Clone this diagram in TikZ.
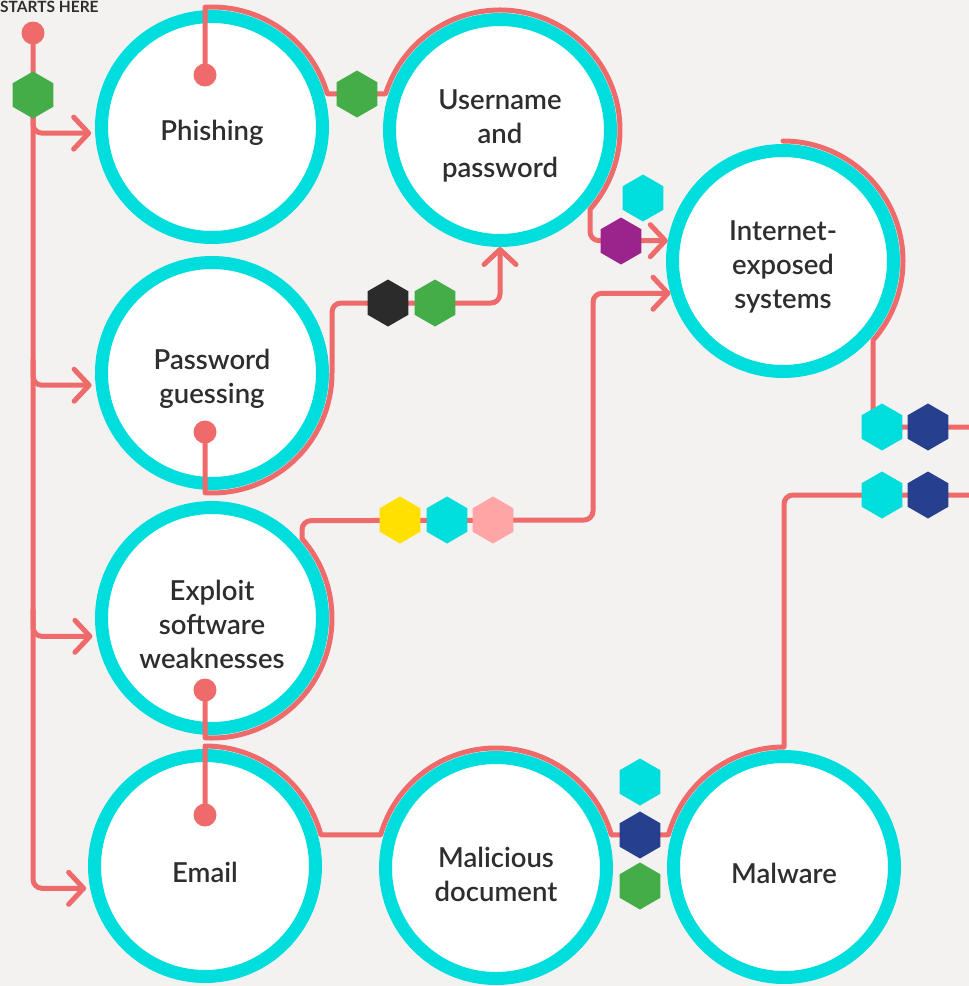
\documentclass[tikz,border=0pt]{standalone}
\usepackage{fontspec}
\setmainfont{Lato}
\newfontfamily\stagefont{Lato Semibold}
\usetikzlibrary{shapes.geometric,arrows.meta,calc}

\definecolor{bg}{HTML}{F4F2F1}
\definecolor{ringcyan}{HTML}{00DDDD}
\definecolor{flowred}{HTML}{EF6A6A}
\definecolor{ink}{HTML}{2E2E2E}
\definecolor{hgreen}{HTML}{45AD48}
\definecolor{hnavy}{HTML}{26408F}
\definecolor{hpurple}{HTML}{9B248C}
\definecolor{hblack}{HTML}{2B2B2B}
\definecolor{hyellow}{HTML}{FFE000}
\definecolor{hpink}{HTML}{FFA5A5}

\begin{document}
\begin{tikzpicture}[x=1pt,y=1pt,
  >={Straight Barb[length=15pt,width=32pt,round]},
  stage/.style={circle, draw=ringcyan, line width=13pt, fill=white,
    minimum size=221pt, inner sep=0pt,
    label={[yshift=-6pt, align=center, text=ink,
      font=\stagefont\fontsize{27.5}{34}\selectfont]center:#1}},
  flow/.style={draw=flowred, line width=5pt, line cap=round, line join=round},
  hexa/.style={regular polygon, regular polygon sides=6, shape border rotate=30,
    minimum size=47pt, inner sep=0pt, draw=none, fill=#1},
  dot/.style={circle, fill=flowred, minimum size=23pt, inner sep=0pt}]

\useasboundingbox (0,0) rectangle (969,-986);
\clip (0,0) rectangle (969,-986);
\fill[bg] (0,0) rectangle (969,-986);

% stages
\node[stage={Phishing}]                       (phish)   at (212,-127) {};
\node[stage={Username\\and\\password}]        (user)    at (500,-130) {};
\node[stage={Internet-\\exposed\\systems}]    (inet)    at (783,-261) {};
\node[stage={Password\\guessing}]             (guess)   at (212,-373) {};
\node[stage={Exploit\\software\\weaknesses}]  (exploit) at (212,-618) {};
\node[stage={Email}]                          (email)   at (205,-866) {};
\node[stage={Malicious\\document}]            (maldoc)  at (496,-868) {};
\node[stage={Malware}]                        (malware) at (784,-867) {};

% start label
\node[anchor=north west, inner sep=0pt, text=ink,
  font=\bfseries\fontsize{15.5}{15.5}\selectfont]
  (startlabel) at (0,-1) {STARTS HERE};

% path origins
\coordinate (startdot)   at (33,-33);
\coordinate (phishdot)   at ($(phish.center)+(-7,52)$);
\coordinate (guessdot)   at ($(guess.center)+(-7,-59)$);
\coordinate (exploitdot) at ($(exploit.center)+(-7,-72)$);
\coordinate (emaildot)   at ($(email.center)+(0,51)$);
\coordinate (rightA) at (980,-427);
\coordinate (rightB) at (980,-495);

% trunk and branches
\draw[flow,->,shorten >=4pt,rounded corners=9] (startdot) |- (email.191);
\draw[flow,->,shorten >=4pt,rounded corners=9] (33,-110) |- (phish.183);
\draw[flow,->,shorten >=4pt,rounded corners=9] (33,-360) |- (guess.186);
\draw[flow,->,shorten >=4pt,rounded corners=9] (33,-610) |- (exploit.189);

% phishing -> username and password -> internet-exposed systems
\draw[flow,->] (phishdot) -- ($(phish.center)+(93.3:120)$)
  arc[start angle=93.3, end angle=16, radius=120]
  -- ($(user.center)+(162.5:120)$)
  arc[start angle=162.5, end angle=-41.4, radius=120]
  [rounded corners=9] |- (inet.170);

% password guessing -> username and password
\draw[flow,->] (guessdot) -- ($(guess.center)+(-93.3:120)$)
  arc[start angle=-93.3, end angle=0, radius=120]
  [rounded corners=9] -- ++(0,70) -| (user.south);

% exploit software weaknesses -> internet-exposed systems
\draw[flow,->] (exploitdot) -- ($(exploit.center)+(-93.3:120)$)
  arc[start angle=-93.3, end angle=41.4, radius=120]
  [rounded corners=9] -- ++(0,18) -- (593,-520) |- (inet.196);

% email -> malicious document -> malware -> onward
\draw[flow] (emaildot) -- ($(email.center)+(90:120)$)
  arc[start angle=90, end angle=15, radius=120]
  -- ($(maldoc.center)+(164:120)$)
  arc[start angle=164, end angle=16, radius=120]
  -- ($(malware.center)+(164.5:120)$)
  arc[start angle=164.5, end angle=90, radius=120]
  [rounded corners=9] -- (784,-495) -- (rightB);

% internet-exposed systems -> onward
\draw[flow] ($(inet.center)+(90:120)$)
  arc[start angle=90, end angle=-41.4, radius=120]
  [rounded corners=9] -- (873,-427) -- (rightA);

% dots
\node[dot] (d0) at (startdot) {};
\node[dot] (d1) at (phishdot) {};
\node[dot] (d2) at (guessdot) {};
\node[dot] (d3) at (exploitdot) {};
\node[dot] (d4) at (emaildot) {};

% markers
\node[hexa=hgreen]   (m1)  at (33,-95) {};
\node[hexa=hgreen]   (m2)  at (357,-94) {};
\node[hexa=ringcyan] (m3)  at (643,-198) {};
\node[hexa=hpurple]  (m4)  at (621,-241) {};
\node[hexa=hblack]   (m5)  at (388,-303) {};
\node[hexa=hgreen]   (m6)  at (435,-303) {};
\node[hexa=hyellow]  (m7)  at (400,-520) {};
\node[hexa=ringcyan] (m8)  at (447,-520) {};
\node[hexa=hpink]    (m9)  at (493,-520) {};
\node[hexa=ringcyan] (m10) at (882,-427) {};
\node[hexa=hnavy]    (m11) at (928,-427) {};
\node[hexa=ringcyan] (m12) at (882,-495) {};
\node[hexa=hnavy]    (m13) at (928,-495) {};
\node[hexa=ringcyan] (m14) at (640,-782) {};
\node[hexa=hnavy]    (m15) at (640,-835) {};
\node[hexa=hgreen]   (m16) at (640,-886) {};
\end{tikzpicture}
\end{document}
